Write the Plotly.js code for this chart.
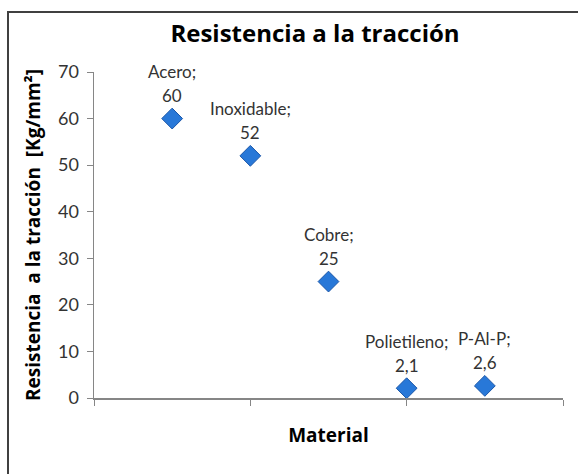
<!DOCTYPE html>
<html>
<head>
<meta charset="utf-8">
<script src="https://cdn.plot.ly/plotly-3.0.1.min.js"></script>
<style>
html,body{margin:0;padding:0;background:#fff;}
#wrap{position:relative;width:578px;height:474px;overflow:hidden;}
#chart{width:578px;height:474px;}
#frame{position:absolute;left:7px;top:11px;width:620px;height:520px;border-left:2px solid #404040;border-top:2px solid #404040;pointer-events:none;}
</style>
</head>
<body>
<div id="wrap"><div id="chart"></div><div id="frame"></div></div>
<script>
const materials = ["Acero", "Inoxidable", "Cobre", "Polietileno", "P-Al-P"];
const xPositions = [1, 2, 3, 4, 5];
const resistance = [60, 52, 25, 2.1, 2.6];
const yTicks = [0, 10, 20, 30, 40, 50, 60, 70];
const xTicks = [0, 2, 4, 6];

const fontFam = "Lato, 'Open Sans', sans-serif";
const fmt = v => String(v).replace('.', ',');

const annotations = [];
materials.forEach((m, i) => {
  annotations.push({x: xPositions[i], y: resistance[i], xref: 'x', yref: 'y', text: m + ';',
    showarrow: false, yshift: 47, font: {family: fontFam, size: 17, color: '#333'}});
  annotations.push({x: xPositions[i], y: resistance[i], xref: 'x', yref: 'y', text: fmt(resistance[i]),
    showarrow: false, yshift: 23, font: {family: fontFam, size: 17, color: '#333'}});
});

const trace = {
  type: 'scatter', mode: 'markers',
  x: xPositions, y: resistance,
  marker: {symbol: 'diamond', size: 16, color: '#2878d8', line: {color: '#1a56a8', width: 1}},
  hoverinfo: 'none', cliponaxis: false
};

const layout = {
  width: 578, height: 474,
  margin: {l: 94, r: 15, t: 72, b: 76},
  paper_bgcolor: '#fff', plot_bgcolor: '#fff',
  showlegend: false,
  title: {text: '<b>Resistencia a la tracción</b>', x: 0.545, xanchor: 'center', y: 0.93, yanchor: 'middle',
    font: {family: "'Open Sans', sans-serif", size: 24, color: '#000'}},
  xaxis: {range: [0, 6], tickvals: xTicks, ticktext: xTicks.map(() => ''), showgrid: false, zeroline: false,
    showline: true, linecolor: '#868686', linewidth: 1.5, ticks: 'outside', ticklen: 6, tickcolor: '#868686',
    title: {text: '<b>Material</b>', font: {family: "'Open Sans', sans-serif", size: 19, color: '#000'}, standoff: 22}},
  yaxis: {range: [0, 70], tickvals: yTicks, showgrid: false, zeroline: false,
    showline: true, linecolor: '#868686', linewidth: 1.5, ticks: 'outside', ticklen: 6, tickcolor: '#868686',
    ticklabelstandoff: 4,
    tickfont: {family: fontFam, size: 18, color: '#333'},
    title: {text: '<b>Resistencia  a la tracción  [Kg/mm²]</b>', font: {family: "'Open Sans', sans-serif", size: 19, color: '#000'}, standoff: 12}},
  annotations: annotations
};

Plotly.newPlot('chart', [trace], layout, {displayModeBar: false, staticPlot: true});
</script>
</body>
</html>
